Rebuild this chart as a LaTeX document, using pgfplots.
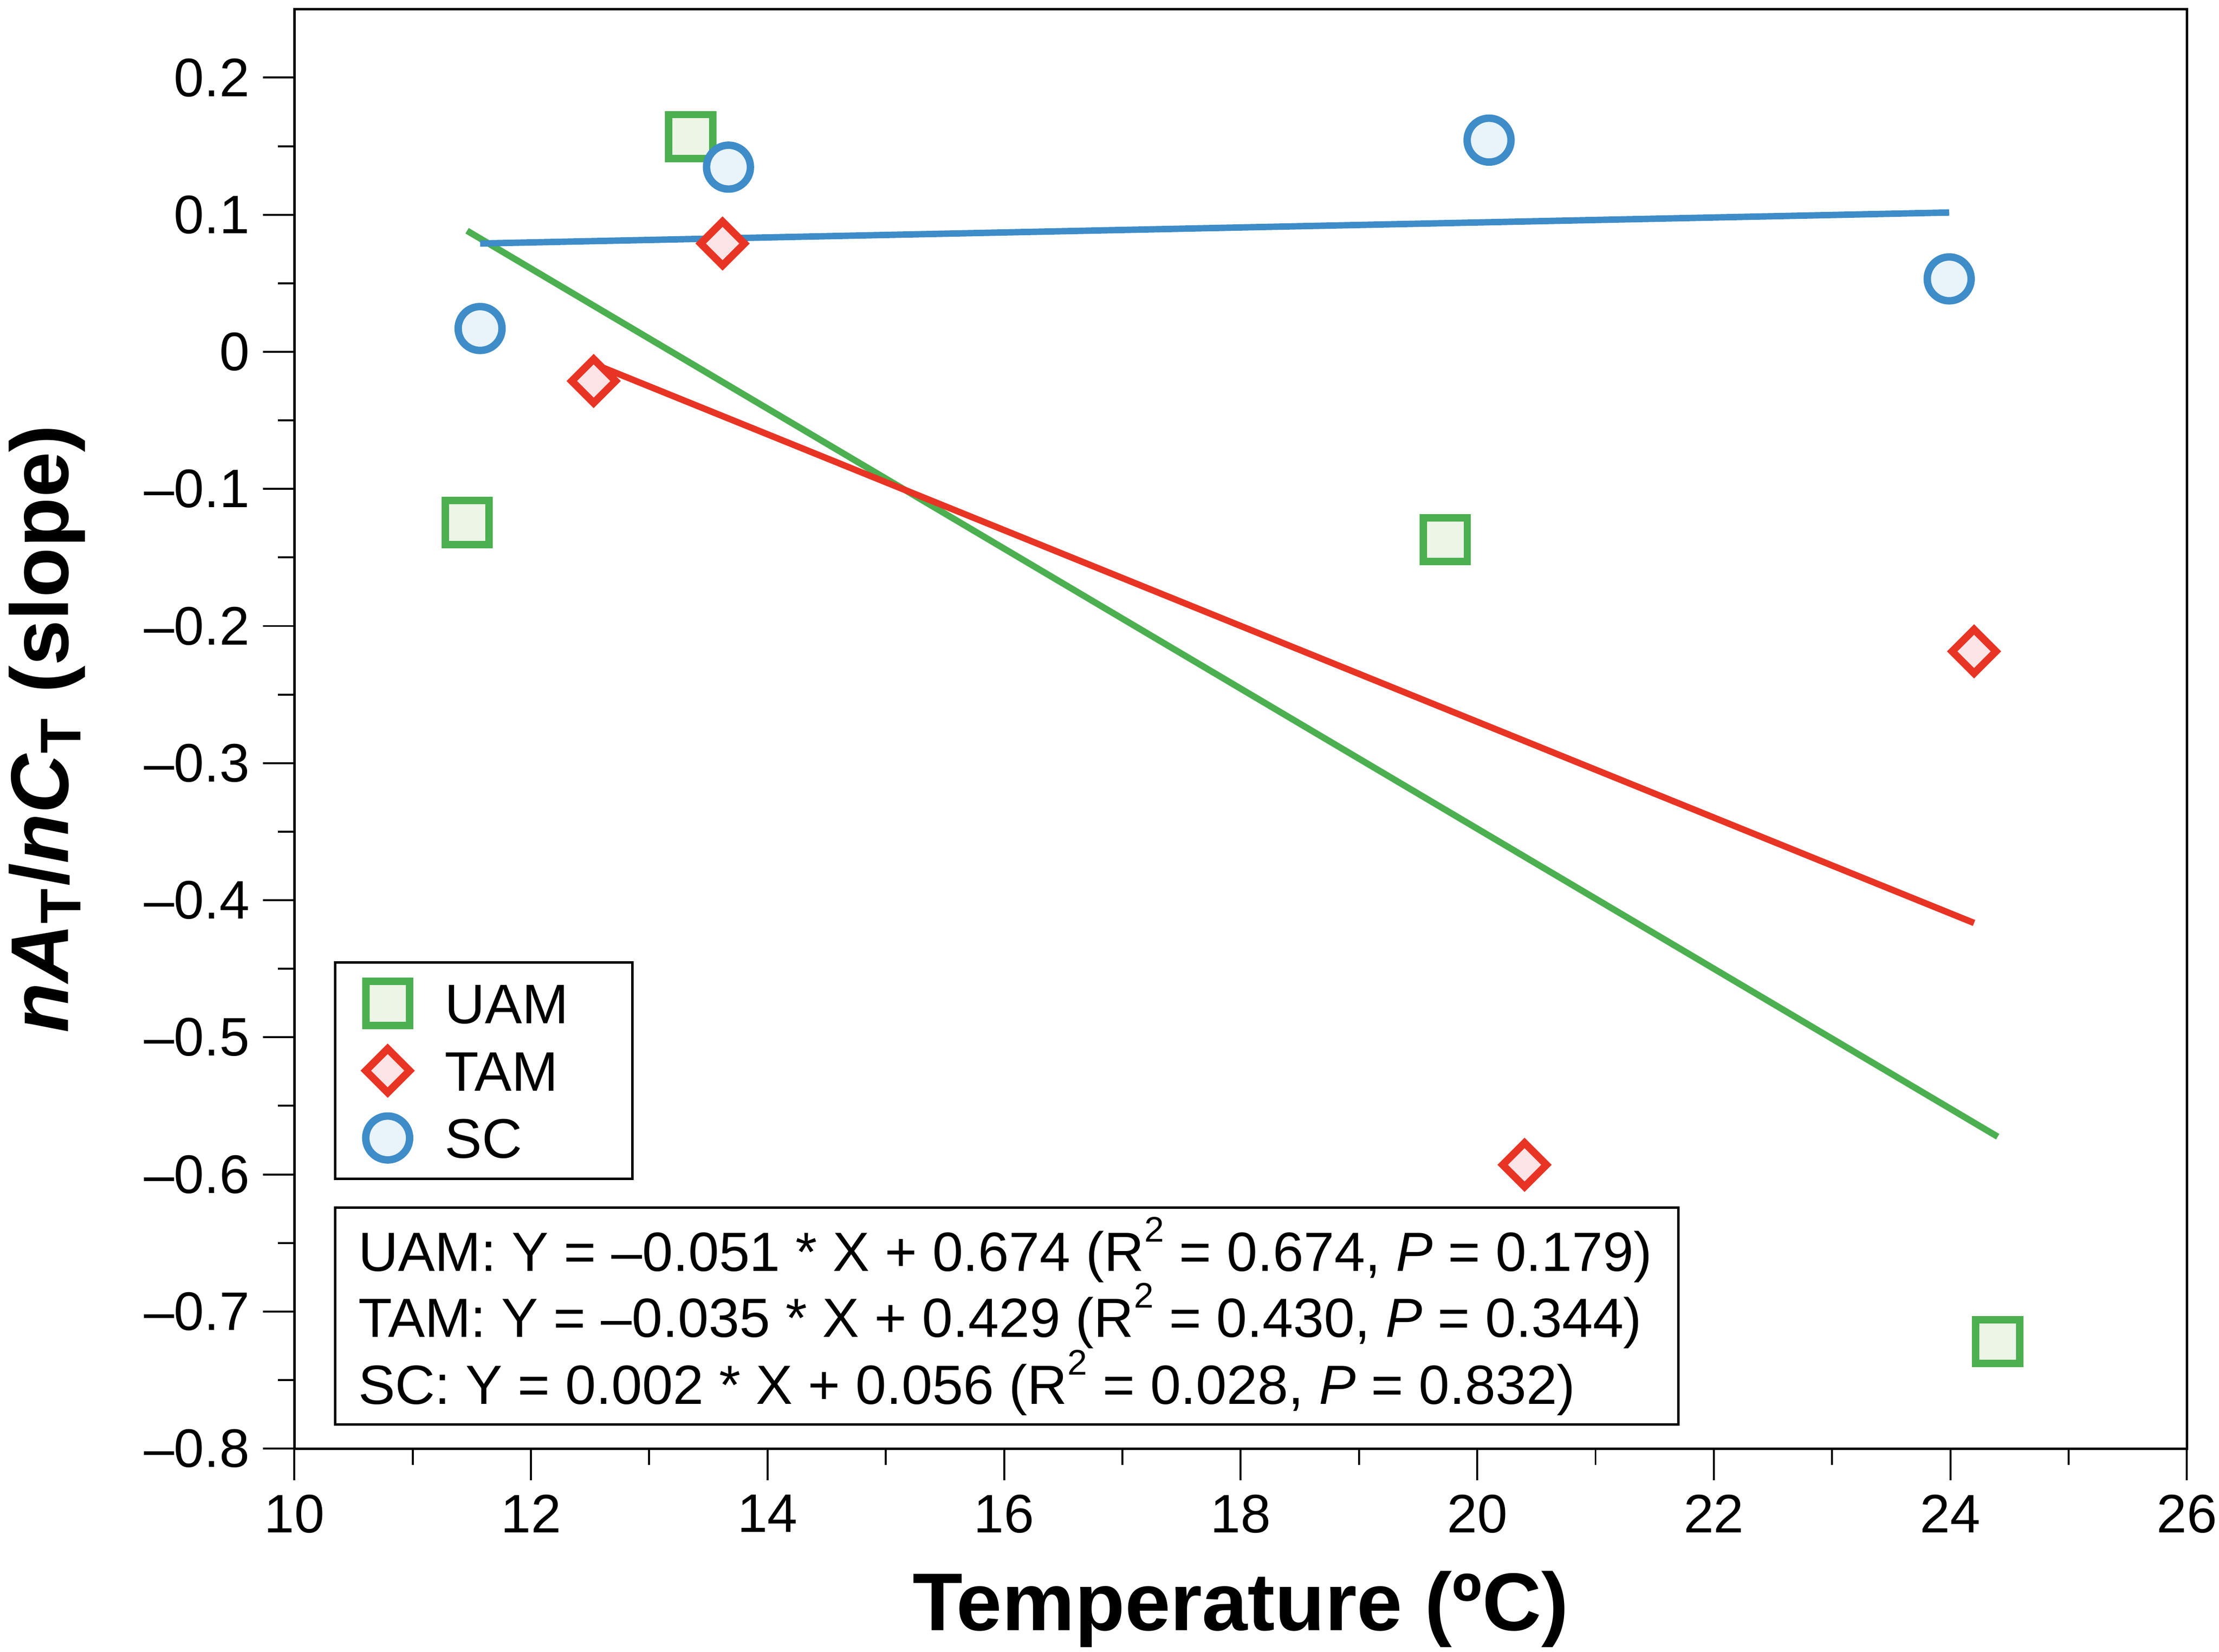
\documentclass[border=0pt]{standalone}
\usepackage{fontspec}
\setmainfont{Liberation Sans}
\usepackage{pgfplots}
\pgfplotsset{compat=1.18}
\definecolor{gUAM}{RGB}{76,175,80}
\definecolor{gUAMf}{RGB}{236,245,230}
\definecolor{rTAM}{RGB}{232,52,36}
\definecolor{rTAMf}{RGB}{253,228,230}
\definecolor{bSC}{RGB}{62,140,200}
\definecolor{bSCf}{RGB}{232,243,250}
\newcommand{\sq}{\raisebox{6pt}{\fontsize{7.2}{8}\selectfont 2}}
\begin{document}
\begin{tikzpicture}
\begin{axis}[
  name=ax,
  scale only axis,
  width=383.8pt, height=291.9pt,
  xmin=10, xmax=26, ymin=-0.8, ymax=0.25,
  xtick={10,12,...,26},
  ytick={-0.8,-0.7,-0.6,-0.5,-0.4,-0.3,-0.2,-0.1,0,0.1,0.2},
  yticklabels={–0.8,–0.7,–0.6,–0.5,–0.4,–0.3,–0.2,–0.1,0,0.1,0.2},
  minor x tick num=1, minor y tick num=1,
  tick align=outside, xtick pos=bottom, ytick pos=left,
  major tick length=6.4pt, minor tick length=3.3pt,
  every tick/.style={black, line width=0.4pt},
  axis line style={line width=0.5pt},
  /pgf/number format/assume math mode=true,
  ticklabel style={font=\fontsize{11}{13}\selectfont},
  xticklabel style={inner sep=0pt, yshift=-2.8pt},
  yticklabel style={inner sep=0pt, xshift=-2.5pt},
  xlabel={Temperature (ºC)},
  xlabel style={font=\bfseries\fontsize{16.6}{20}\selectfont, at={(axis description cs:0.5,0)}, anchor=base, yshift=-36.9pt, inner sep=0pt},
  ylabel={\textit{nA}\textsubscript{T}/\textit{nC}\textsubscript{T} (slope)},
  ylabel style={font=\bfseries\fontsize{16.6}{20}\selectfont, at={(axis description cs:0,0.5)}, anchor=base, yshift=45.9pt, inner sep=0pt},
  legend cell align=left,
  legend image code/.code={\path (0pt,0pt) (15.8pt,0pt); \draw[#1] plot coordinates {(7.9pt,0pt)};},
  legend style={at={(0.0209,0.3386)}, anchor=north west, draw=black, line width=0.5pt,
    font=\fontsize{11.3}{13}\selectfont, inner xsep=2pt, inner ysep=2pt, row sep=1.05pt, column sep=0pt,
    nodes={inner xsep=2.9pt, inner ysep=0pt, text height=10.4pt, text depth=2.2pt}},
]
% regression lines
\addplot[forget plot, gUAM, line width=1.3pt] coordinates {(11.46,0.0883) (24.40,-0.5725)};
\addplot[forget plot, rTAM, line width=1.3pt] coordinates {(12.53,-0.0088) (24.20,-0.4166)};
\addplot[forget plot, bSC, line width=1.3pt] coordinates {(11.57,0.079) (23.99,0.1016)};
% data
\addplot[only marks, mark=square*, mark size=4.45pt, line width=1.5pt, draw=gUAM, fill=gUAMf]
  coordinates {(11.46,-0.1245) (13.35,0.157) (19.73,-0.137) (24.40,-0.722)};
\addlegendentry{UAM\hspace*{8.1pt}}
\addplot[only marks, mark=square*, mark options={rotate=45}, mark size=3.14pt, line width=1.5pt, draw=rTAM, fill=rTAMf]
  coordinates {(12.53,-0.0213) (13.62,0.079) (20.40,-0.593) (24.20,-0.2185)};
\addlegendentry{TAM}
\addplot[only marks, mark=*, mark size=4.45pt, line width=1.5pt, draw=bSC, fill=bSCf]
  coordinates {(11.57,0.017) (13.67,0.1347) (20.10,0.1544) (23.99,0.0532)};
\addlegendentry{SC}
% equation box
\draw[line width=0.5pt] (rel axis cs:0.0216,0.0168) rectangle (rel axis cs:0.7313,0.1674);
\node[anchor=base west, inner sep=0pt, font=\fontsize{11.2}{13}\selectfont] at (rel axis cs:0.0333,0.1232) {UAM: Y = –0.051 * X + 0.674 (R\sq{} = 0.674, \textit{P} = 0.179)};
\node[anchor=base west, inner sep=0pt, font=\fontsize{11.2}{13}\selectfont] at (rel axis cs:0.0333,0.0773) {TAM: Y = –0.035 * X + 0.429 (R\sq{} = 0.430, \textit{P} = 0.344)};
\node[anchor=base west, inner sep=0pt, font=\fontsize{11.2}{13}\selectfont] at (rel axis cs:0.0333,0.0308) {SC: Y = 0.002 * X + 0.056 (R\sq{} = 0.028, \textit{P} = 0.832)};
\end{axis}
\pgfresetboundingbox
\path ([xshift=-59.7pt,yshift=-41.2pt]ax.south west) rectangle ([xshift=6.5pt,yshift=1.84pt]ax.north east);
\end{tikzpicture}
\end{document}
